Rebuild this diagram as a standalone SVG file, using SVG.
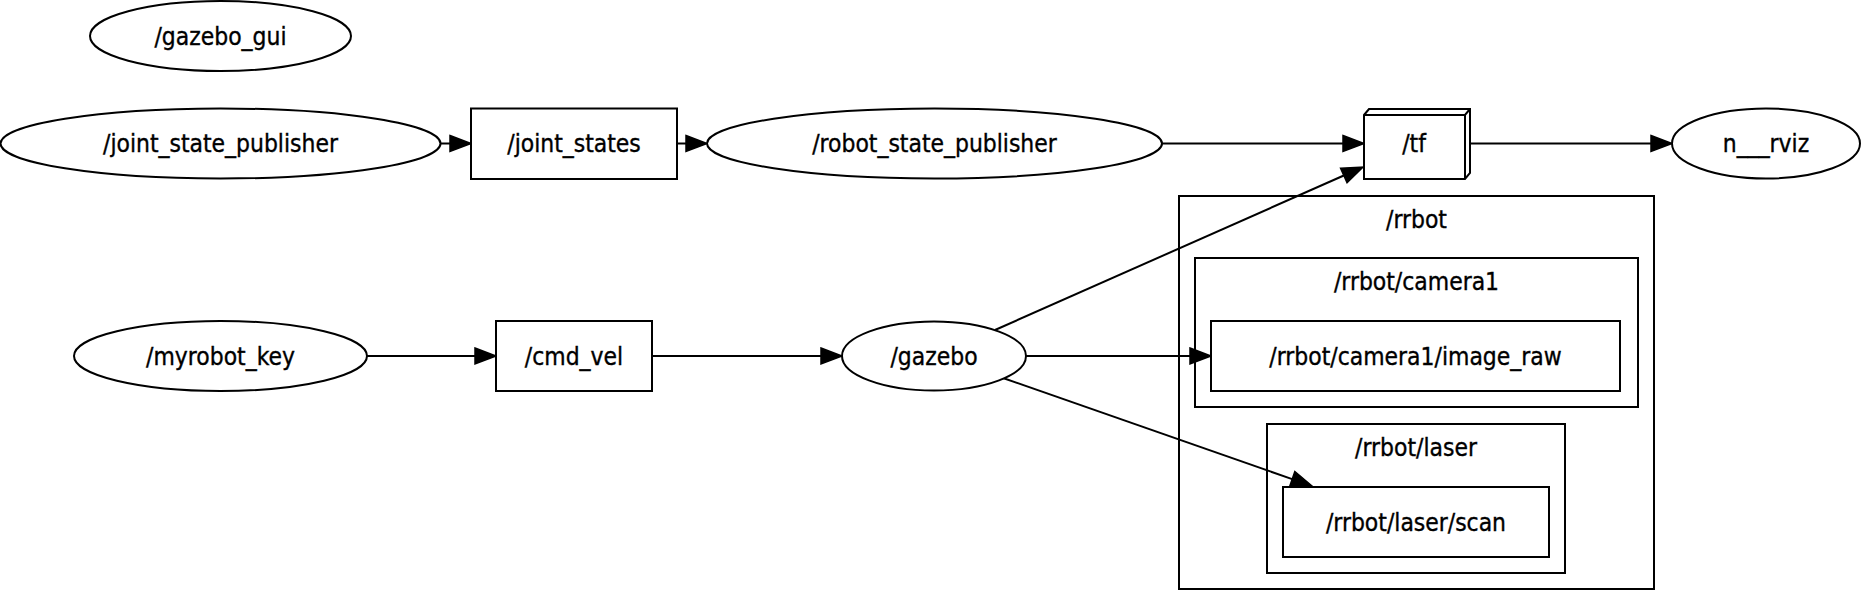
<svg xmlns="http://www.w3.org/2000/svg" width="1861" height="591" viewBox="0 0 1861 591">
<style>
  .n { fill: #ffffff; stroke: #000000; stroke-width: 2; }
  .c { fill: none; stroke: #000000; stroke-width: 2; }
  .t { font-family: "DejaVu Sans Condensed", "DejaVu Sans", "Liberation Sans", sans-serif; font-stretch: condensed; font-size: 24.4px; fill: #000000; stroke: #000000; stroke-width: 0.35; text-anchor: middle; }
  .e { fill: none; stroke: #000000; stroke-width: 2; marker-end: url(#arr); }
</style>
<defs>
  <marker id="arr" markerUnits="userSpaceOnUse" markerWidth="24" markerHeight="20" refX="0" refY="8" orient="auto" overflow="visible">
    <path d="M0,0 L21,8 L0,16 Z" fill="#000000" stroke="#000000" stroke-width="1.5" stroke-linejoin="miter"/>
  </marker>
</defs>
<rect x="0" y="0" width="1861" height="591" fill="#ffffff"/>

<g id="cluster_rrbot">
  <rect class="c" x="1179" y="196" width="475" height="393"/>
  <text class="t" x="1416.5" y="228">/rrbot</text>
</g>
<g id="cluster_rrbot_camera1">
  <rect class="c" x="1195" y="258" width="443" height="149"/>
  <text class="t" x="1416.5" y="290">/rrbot/camera1</text>
</g>
<g id="cluster_rrbot_laser">
  <rect class="c" x="1267" y="424" width="298" height="149"/>
  <text class="t" x="1416" y="456">/rrbot/laser</text>
</g>

<g id="connectors">
  <line class="e" x1="441" y1="143.5" x2="450" y2="143.5"/>
  <line class="e" x1="677" y1="143.5" x2="686" y2="143.5"/>
  <line class="e" x1="1162" y1="143.5" x2="1343" y2="143.5"/>
  <line class="e" x1="1469" y1="143.5" x2="1651" y2="143.5"/>
  <line class="e" x1="367" y1="356" x2="475" y2="356"/>
  <line class="e" x1="652" y1="356" x2="821" y2="356"/>
  <line class="e" x1="1026" y1="356" x2="1190" y2="356"/>
  <line class="e" x1="995" y1="330" x2="1343.8" y2="175.5"/>
  <line class="e" x1="1003" y1="378" x2="1292.2" y2="479.1"/>
</g>

<g id="n_gazebo_gui">
  <ellipse class="n" cx="220.5" cy="36" rx="130.5" ry="35"/>
  <text class="t" x="220.5" y="44.5">/gazebo_gui</text>
</g>
<g id="n_joint_state_publisher">
  <ellipse class="n" cx="220.5" cy="143.5" rx="220" ry="35"/>
  <text class="t" x="220.5" y="152">/joint_state_publisher</text>
</g>
<g id="n_joint_states">
  <rect class="n" x="471" y="108.5" width="206" height="70.5"/>
  <text class="t" x="574" y="152">/joint_states</text>
</g>
<g id="n_robot_state_publisher">
  <ellipse class="n" cx="934.5" cy="143.5" rx="227.5" ry="35"/>
  <text class="t" x="934.5" y="152">/robot_state_publisher</text>
</g>
<g id="n_tf">
  <polygon class="n" points="1364,115 1369,109 1470,109 1470,173 1465,179 1364,179"/>
  <polyline class="c" points="1364,115 1465,115 1470,109"/>
  <line class="c" x1="1465" y1="115" x2="1465" y2="179"/>
  <text class="t" x="1414" y="152">/tf</text>
</g>
<g id="n_rviz">
  <ellipse class="n" cx="1766" cy="143.5" rx="94" ry="35"/>
  <text class="t" x="1766" y="152">n___rviz</text>
</g>
<g id="n_myrobot_key">
  <ellipse class="n" cx="220.5" cy="356" rx="146.5" ry="35"/>
  <text class="t" x="220.5" y="364.5">/myrobot_key</text>
</g>
<g id="n_cmd_vel">
  <rect class="n" x="496" y="321" width="156" height="70"/>
  <text class="t" x="574" y="364.5">/cmd_vel</text>
</g>
<g id="n_gazebo">
  <ellipse class="n" cx="934" cy="356" rx="92" ry="34.5"/>
  <text class="t" x="934" y="364.5">/gazebo</text>
</g>
<g id="n_image_raw">
  <rect class="n" x="1211" y="321" width="409" height="70"/>
  <text class="t" x="1415.5" y="364.5">/rrbot/camera1/image_raw</text>
</g>
<g id="n_laser_scan">
  <rect class="n" x="1283" y="487" width="266" height="70"/>
  <text class="t" x="1416" y="530.5">/rrbot/laser/scan</text>
</g>
</svg>
